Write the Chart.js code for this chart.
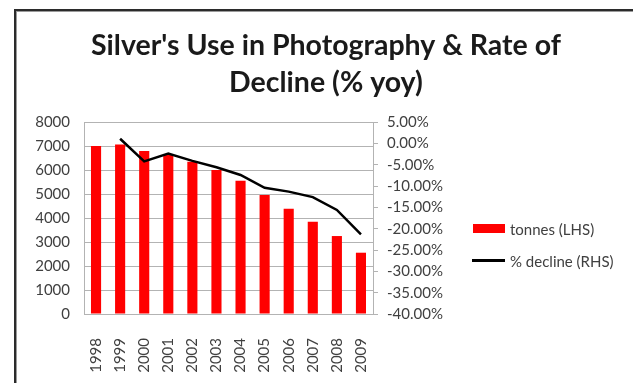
<!DOCTYPE html>
<html>
<head>
<meta charset="utf-8">
<script src="https://cdn.jsdelivr.net/npm/chart.js@4.4.1/dist/chart.umd.min.js"></script>
<style>
  html, body { margin: 0; padding: 0; background: #fff; overflow: hidden; }
  body { width: 633px; height: 383px; position: relative; }
  #frame {
    position: absolute; left: 14px; top: 9px; width: 700px; height: 500px;
    border-left: 2px solid #2b2b2b; border-top: 2px solid #2b2b2b;
    box-shadow: inset 1px 1px 0 #9a9a9a;
  }
  #wrap { position: absolute; left: 16px; top: 11px; width: 620px; height: 372px; }
  .leg { position: absolute; font-family: Lato, sans-serif; font-size: 15px; color: #404040; line-height: 16px; }
  .sw { position: absolute; }
</style>
</head>
<body>
<div id="frame"></div>
<div id="wrap"><canvas id="myChart" width="620" height="372"></canvas></div>
<div id="chart-legend"></div>
<script>
var years = ['1998', '1999', '2000', '2001', '2002', '2003', '2004', '2005', '2006', '2007', '2008', '2009'];
var tonnes = [7000, 7070, 6800, 6625, 6350, 6000, 5555, 4960, 4390, 3850, 3250, 2555];
var decline = [null, 1.1, -4.2, -2.4, -4.1, -5.6, -7.4, -10.4, -11.3, -12.6, -15.6, -21.3];
var seriesNames = ['tonnes (LHS)', '% decline (RHS)'];
var seriesColors = ['#ff0000', '#000000'];

var tickFont = { family: 'Lato', size: 15 };
var tickColor = '#404040';
var axisGray = '#b3b3b3';

var ctx = document.getElementById('myChart').getContext('2d');
var myChart = new Chart(ctx, {
    type: 'bar',
    data: {
        labels: years,
        datasets: [{
            type: 'line',
            label: seriesNames[1],
            data: decline,
            yAxisID: 'y1',
            borderColor: seriesColors[1],
            borderWidth: 2.5,
            pointRadius: 0,
            tension: 0,
            fill: false,
            order: 0
        }, {
            label: seriesNames[0],
            data: tonnes,
            yAxisID: 'y',
            backgroundColor: seriesColors[0],
            barPercentage: 0.42,
            categoryPercentage: 1,
            order: 1
        }]
    },
    options: {
        responsive: false,
        animation: false,
        layout: { padding: 0 },
        plugins: {
            legend: { display: false },
            tooltip: { enabled: false },
            title: {
                display: true,
                text: ["Silver's Use in Photography & Rate of", 'Decline (% yoy)'],
                color: '#1a1a1a',
                font: { family: 'Lato', size: 28.5, weight: 'bold', lineHeight: 1.3 },
                padding: { top: 16, bottom: 21 }
            }
        },
        scales: {
            x: {
                grid: { display: false },
                border: { display: true, color: axisGray, width: 1 },
                ticks: {
                    color: tickColor, font: tickFont, autoSkip: false,
                    minRotation: 90, maxRotation: 90, padding: 16
                },
                afterFit: function(scale) { scale.height = 69; }
            },
            y: {
                position: 'left',
                min: 0, max: 8000,
                grid: { color: axisGray, drawTicks: false },
                border: { display: true, color: axisGray },
                ticks: {
                    stepSize: 1000, color: tickColor, font: tickFont, padding: 14,
                    callback: function(value) { return String(value); }
                },
                afterFit: function(scale) { scale.width = 68; }
            },
            y1: {
                position: 'right',
                min: -40, max: 5,
                grid: { drawOnChartArea: false, color: axisGray, tickLength: 5 },
                border: { display: true, color: axisGray },
                ticks: {
                    stepSize: 5, color: tickColor, font: tickFont, padding: 9,
                    callback: function(value) { return value.toFixed(2) + '%'; }
                },
                afterFit: function(scale) { scale.width = 263; }
            }
        }
    }
});

var legendDiv = document.getElementById('chart-legend');
var legendRows = [
    { swTop: 224, swH: 9, swLeft: 473, swW: 32 },
    { swTop: 259, swH: 3, swLeft: 472, swW: 33 }
];
seriesNames.forEach(function(name, i) {
    var r = legendRows[i];
    var sw = document.createElement('div');
    sw.className = 'sw';
    sw.style.cssText = 'left:' + r.swLeft + 'px;top:' + r.swTop + 'px;width:' + r.swW + 'px;height:' + r.swH + 'px;background:' + seriesColors[i] + ';';
    legendDiv.appendChild(sw);
    var t = document.createElement('div');
    t.className = 'leg';
    t.style.left = '510px';
    t.style.top = (r.swTop + r.swH / 2 - 8) + 'px';
    t.textContent = name;
    legendDiv.appendChild(t);
});
</script>
</body>
</html>
